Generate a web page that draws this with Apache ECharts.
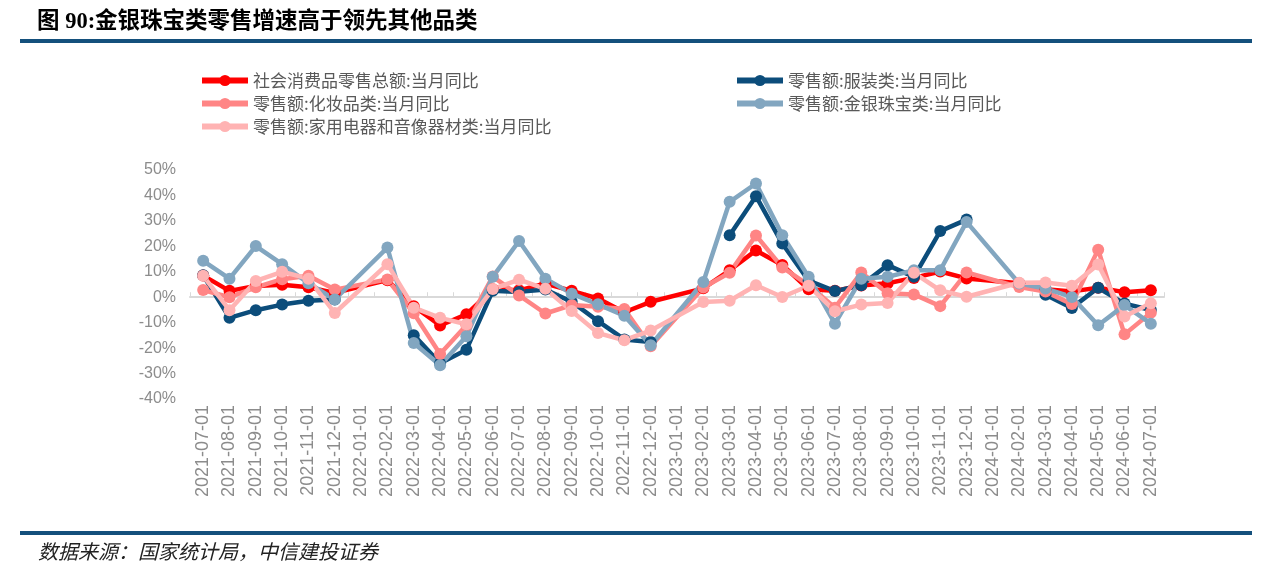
<!DOCTYPE html>
<html>
<head>
<meta charset="utf-8">
<script src="https://cdn.jsdelivr.net/npm/echarts@6/dist/echarts.min.js"></script>
<style>
html,body{margin:0;padding:0;background:#fff;}
#chart{width:1269px;height:573px;}
</style>
</head>
<body>
<div id="chart"></div>
<script>
const categories = ["2021-07-01","2021-08-01","2021-09-01","2021-10-01","2021-11-01","2021-12-01","2022-01-01","2022-02-01","2022-03-01","2022-04-01","2022-05-01","2022-06-01","2022-07-01","2022-08-01","2022-09-01","2022-10-01","2022-11-01","2022-12-01","2023-01-01","2023-02-01","2023-03-01","2023-04-01","2023-05-01","2023-06-01","2023-07-01","2023-08-01","2023-09-01","2023-10-01","2023-11-01","2023-12-01","2024-01-01","2024-02-01","2024-03-01","2024-04-01","2024-05-01","2024-06-01","2024-07-01"];

const seriesNames = ["社会消费品零售总额:当月同比","零售额:服装类:当月同比","零售额:化妆品类:当月同比","零售额:金银珠宝类:当月同比","零售额:家用电器和音像器材类:当月同比"];

const totalRetail = [8.5,2.5,4.4,4.9,3.9,1.7,null,6.7,-3.5,-11.1,-6.7,3.1,2.7,5.4,2.5,-0.5,-5.9,-1.8,null,3.5,10.6,18.4,12.7,3.1,2.5,4.6,5.5,7.6,10.1,7.4,null,5.5,3.1,2.3,3.7,2.0,2.7];
const clothing = [8.6,-8.1,-5.1,-2.9,-1.4,-0.9,null,null,-14.9,-26.0,-20.6,2.5,2.1,3.0,-1.8,-9.4,-16.6,-17.6,null,null,24.4,39.7,21.1,6.5,2.4,4.7,12.6,8.0,26.0,30.5,null,null,1.0,-4.2,3.7,-2.5,-5.0];
const cosmetics = [2.8,0.0,3.9,7.1,8.4,3.0,null,7.0,-6.3,-22.3,-11.0,8.1,0.7,-6.4,-3.1,-3.7,-4.6,-19.3,null,3.8,9.6,24.3,11.7,4.8,-4.1,9.7,1.6,1.1,-3.5,9.7,null,4.0,2.2,-2.7,18.7,-14.6,-6.1];
const jewelry = [14.3,7.3,20.1,13.0,5.5,-0.9,null,19.5,-18.0,-26.7,-15.3,8.0,22.1,7.3,1.4,-2.8,-7.3,-18.9,null,6.0,37.5,44.7,24.4,8.0,-10.4,7.3,8.0,10.6,10.6,29.6,null,5.4,3.4,0.1,-11.0,-3.1,-10.4];
const appliances = [8.4,-5.1,6.4,10.0,7.3,-6.2,null,13.0,-4.1,-8.1,-10.6,3.2,6.9,3.3,-5.4,-14.1,-16.9,-13.1,null,-1.9,-1.4,4.7,0.1,4.5,-5.5,-2.9,-2.3,9.6,2.7,0.2,null,5.7,5.8,4.5,12.9,-7.6,-2.4];

const colors = ["#ff0000","#0c4d7b","#ff8585","#82a6c0","#ffb3b3"];

const chart = echarts.init(document.getElementById('chart'));

function mkSeries(name, data, color, connect) {
  return {
    name: name, type: 'line', data: data,
    xAxisIndex: 0, yAxisIndex: 0,
    connectNulls: connect,
    symbol: 'circle', symbolSize: 12,
    lineStyle: {width: 4.5, color: color},
    itemStyle: {color: color},
    emphasis: {disabled: true},
    animation: false
  };
}

const labelColor = '#8c8c8c';
const legendText = {color: '#595959', fontSize: 17, fontFamily: "'Noto Sans CJK SC', sans-serif"};

chart.setOption({
  animation: false,
  color: colors,
  grid: {left: 190, right: 105, top: 170, bottom: 174, containLabel: false},
  legend: [
    {data: [seriesNames[0], seriesNames[2], seriesNames[4]], orient: 'vertical', left: 194, top: 67,
     itemWidth: 46, itemHeight: 14, itemGap: 6, textStyle: legendText, selectedMode: false,
     lineStyle: {width: 6}},
    {data: [seriesNames[1], seriesNames[3]], orient: 'vertical', left: 729, top: 67,
     itemWidth: 46, itemHeight: 14, itemGap: 6, textStyle: legendText, selectedMode: false,
     lineStyle: {width: 6}}
  ],
  xAxis: [
    {type: 'category', data: categories, boundaryGap: true, position: 'bottom',
     axisLine: {show: true, onZero: true, lineStyle: {color: '#d9d9d9', width: 2}},
     axisTick: {show: true, inside: true, length: 5, interval: 0, lineStyle: {color: '#d9d9d9', width: 1}},
     axisLabel: {show: false}, splitLine: {show: false}},
    {type: 'category', data: categories, boundaryGap: true, position: 'bottom',
     axisLine: {show: false, onZero: false}, axisTick: {show: false},
     axisLabel: {show: true, rotate: 90, interval: 0, margin: 6, color: labelColor, fontSize: 18,
       fontFamily: "'Liberation Sans', Arial, sans-serif"},
     splitLine: {show: false}}
  ],
  yAxis: {
    type: 'value', min: -40, max: 50, interval: 10,
    axisLine: {show: false}, axisTick: {show: false}, splitLine: {show: false},
    axisLabel: {formatter: '{value}%', color: labelColor, fontSize: 16, margin: 14,
      fontFamily: "'Liberation Sans', Arial, sans-serif"}
  },
  series: [
    mkSeries(seriesNames[0], totalRetail, colors[0], true),
    mkSeries(seriesNames[1], clothing, colors[1], false),
    mkSeries(seriesNames[2], cosmetics, colors[2], true),
    mkSeries(seriesNames[3], jewelry, colors[3], true),
    mkSeries(seriesNames[4], appliances, colors[4], true)
  ],
  graphic: [
    {type: 'text', left: 37, top: 11, style: {text: '图 90:金银珠宝类零售增速高于领先其他品类',
      font: "bold 22.5px 'Liberation Serif', 'Noto Sans CJK SC', serif", fill: '#000'}},
    {type: 'rect', shape: {x: 20, y: 39, width: 1232, height: 4}, style: {fill: '#14507c'}},
    {type: 'rect', shape: {x: 20, y: 531, width: 1232, height: 4}, style: {fill: '#14507c'}},
    {type: 'text', left: 38, top: 541, style: {text: '数据来源：国家统计局，中信建投证券',
      font: "italic 20px 'Noto Sans CJK SC', sans-serif", fill: '#222'}}
  ]
});
</script>
</body>
</html>
